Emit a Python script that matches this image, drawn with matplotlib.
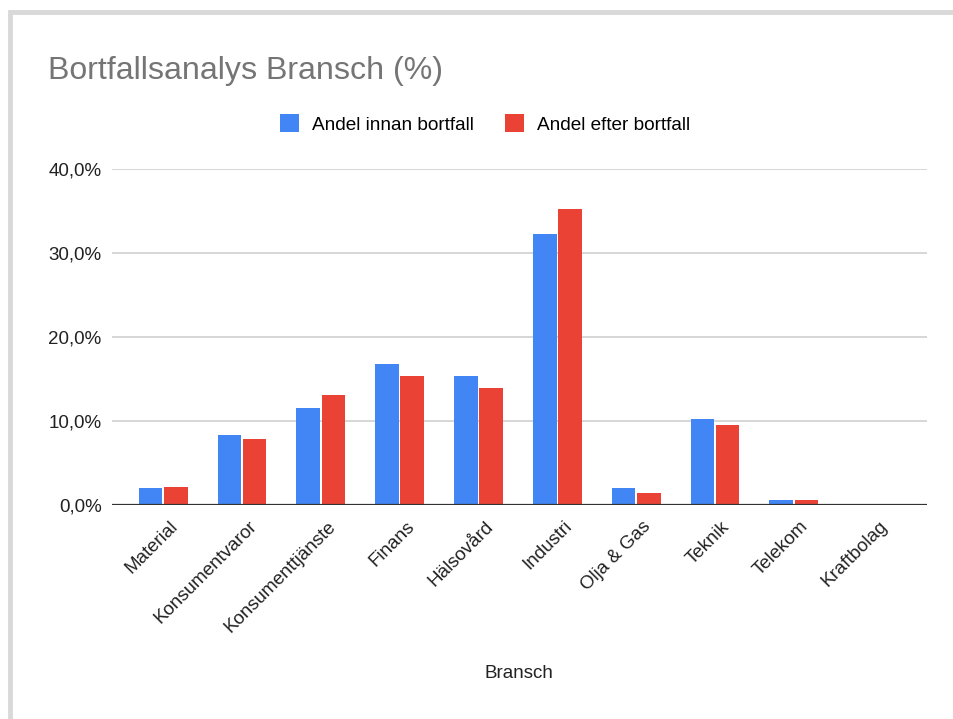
import matplotlib.pyplot as plt
import numpy as np
from matplotlib.patches import Rectangle
from matplotlib.ticker import FuncFormatter
from matplotlib.transforms import ScaledTranslation

plt.rcParams['font.family'] = ['Liberation Sans', 'DejaVu Sans']

branscher = ['Material', 'Konsumentvaror', 'Konsumenttjänste', 'Finans', 'Hälsovård',
             'Industri', 'Olja & Gas', 'Teknik', 'Telekom', 'Kraftbolag']
andel_innan = [2.0, 8.3, 11.6, 16.8, 15.4, 32.3, 2.0, 10.2, 0.6, 0.0]
andel_efter = [2.2, 7.9, 13.1, 15.4, 13.9, 35.2, 1.4, 9.5, 0.6, 0.0]

BLUE = '#4285F4'
RED = '#EA4335'

fig = plt.figure(figsize=(9.54, 7.19), dpi=100)

# light gray frame around the chart card
fig.patches.append(Rectangle((10 / 954, -0.05), 1.1, (719 - 12) / 719 + 0.05,
                             transform=fig.transFigure, fill=False,
                             edgecolor='#d9d9d9', linewidth=3.5))

ax = fig.add_axes([112 / 954, 1 - 505 / 719, (927 - 112) / 954, (505 - 169) / 719])

x = np.arange(len(branscher))
w = 0.30
ax.bar(x - w / 2 - 0.01, andel_innan, w, color=BLUE, label='Andel innan bortfall', zorder=3)
ax.bar(x + w / 2 + 0.01, andel_efter, w, color=RED, label='Andel efter bortfall', zorder=3)

ax.set_xlim(-0.65, 9.69)
ax.set_ylim(0, 40)
ax.set_yticks([0, 10, 20, 30, 40])
ax.yaxis.set_major_formatter(FuncFormatter(lambda v, p: f'{v:.1f}%'.replace('.', ',')))
ax.grid(axis='y', color='#cccccc', linewidth=1.1, zorder=0)
ax.axhline(0, color='#333333', linewidth=1.6, zorder=4)

for s in ax.spines.values():
    s.set_visible(False)
ax.tick_params(axis='both', length=0, labelsize=13.5, colors='#222222')
ax.tick_params(axis='y', pad=7.4)

ax.set_xticks(x)
ax.set_xticklabels(branscher, rotation=45, ha='right', rotation_mode='anchor')
offset = ScaledTranslation(0.06, -0.08, fig.dpi_scale_trans)
for lbl in ax.get_xticklabels():
    lbl.set_transform(lbl.get_transform() + offset)

fig.text(519 / 954, 1 - 674 / 719, 'Bransch', ha='center', va='center',
         fontsize=13.5, color='#222222')

fig.text(48 / 954, 1 - 71 / 719, 'Bortfallsanalys Bransch (%)', ha='left', va='center',
         fontsize=23.1, color='#757575')

fig.legend(loc='center', bbox_to_anchor=(485 / 954, 1 - 124 / 719), ncol=2, frameon=False,
           fontsize=13.7, handlelength=1.0, handleheight=1.0, handletextpad=0.68,
           columnspacing=1.63)

fig.savefig('out.png', dpi=100, facecolor='white')
